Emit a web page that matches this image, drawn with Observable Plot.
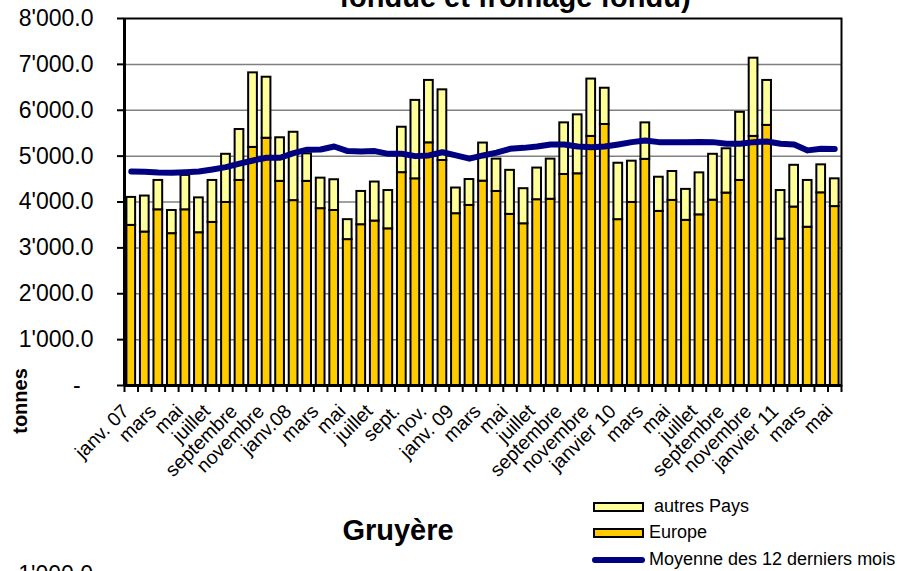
<!DOCTYPE html>
<html><head><meta charset="utf-8">
<script src="https://cdn.jsdelivr.net/npm/d3@7"></script>
<script src="https://cdn.jsdelivr.net/npm/@observablehq/plot@0.6"></script>
<style>
html,body{margin:0;padding:0;background:#fff;overflow:hidden}
#wrap{position:relative;width:897px;height:571px;overflow:hidden;font-family:"Liberation Sans",Arial,sans-serif;color:#000}
.t{position:absolute;white-space:nowrap;line-height:1}
.sw{position:absolute;box-sizing:border-box;border:2px solid #000}
</style></head><body><div id="wrap"></div>
<script>
// Months (janv. 2007 .. mai 2011)
const months = [
  "2007-01","2007-02","2007-03","2007-04","2007-05","2007-06","2007-07","2007-08","2007-09","2007-10","2007-11","2007-12",
  "2008-01","2008-02","2008-03","2008-04","2008-05","2008-06","2008-07","2008-08","2008-09","2008-10","2008-11","2008-12",
  "2009-01","2009-02","2009-03","2009-04","2009-05","2009-06","2009-07","2009-08","2009-09","2009-10","2009-11","2009-12",
  "2010-01","2010-02","2010-03","2010-04","2010-05","2010-06","2010-07","2010-08","2010-09","2010-10","2010-11","2010-12",
  "2011-01","2011-02","2011-03","2011-04","2011-05"
];
// Tick labels shown every second month
const tickLabels = [
  "janv. 07","mars","mai","juillet","septembre","novembre",
  "janv.08","mars","mai","juillet","sept.","nov.",
  "janv. 09","mars","mai","juillet","septembre","novembre",
  "janvier 10","mars","mai","juillet","septembre","novembre",
  "janvier 11","mars","mai"
];
// Exports in tonnes
const europe = [
  3490,3345,3830,3310,3830,3330,3555,3990,4470,5190,5390,4450,
  4030,4450,3855,3815,3180,3505,3585,3415,4640,4505,5290,4905,
  3745,3925,4455,4230,3730,3525,4050,4060,4600,4615,5430,5690,
  3615,3990,4930,3795,4035,3600,3720,4040,4195,4470,5430,5670,
  3190,3890,3450,4200,3900
];
const autresPays = [
  610,785,640,505,750,760,915,1050,1110,1625,1330,950,
  1490,600,665,670,435,725,850,835,990,1710,1360,1540,
  560,565,830,705,960,765,690,875,1125,1285,1250,790,
  1230,900,795,745,630,675,915,1000,965,1485,1705,980,
  1060,910,1020,610,605
];
const moyenne12 = [
  4665,4660,4645,4640,4650,4665,4710,4760,4835,4905,4965,4965,
  5065,5140,5145,5210,5110,5100,5110,5050,5050,5000,5015,5085,
  5015,4945,5015,5075,5160,5180,5210,5255,5255,5210,5195,5210,
  5255,5305,5340,5305,5305,5305,5310,5305,5270,5270,5305,5320,
  5270,5255,5125,5160,5155
];
const yTicks = [0,1000,2000,3000,4000,5000,6000,7000,8000];
const gridValues = [1000,2000,3000,4000,5000,6000,7000];
const seriesNames = ["Europe","autres Pays"];
const seriesColors = ["#FFCC00","#FFFF99"];

const barRows = [];
months.forEach((m, i) => {
  barRows.push({i, month: m, series: "Europe", y1: 0, y2: europe[i]});
  barRows.push({i, month: m, series: "autres Pays", y1: europe[i], y2: europe[i] + autresPays[i]});
});
const lineRows = months.map((m, i) => ({i, month: m, v: moyenne12[i]}));
const boundaries = d3.range(months.length + 1);

const fmt = d => d === 0 ? "-\u00a0\u00a0" : d3.format(",.1f")(d).replace(/,/g, "'");

const chart = Plot.plot({
  width: 897,
  height: 571,
  marginLeft: 124,
  marginRight: 56,
  marginTop: 18,
  marginBottom: 186,
  style: {fontFamily: "'Liberation Sans', Arial, sans-serif", color: "#000", background: "#fff", overflow: "visible"},
  x: {domain: [0, months.length]},
  y: {domain: [0, 8000]},
  color: {domain: seriesNames, range: seriesColors},
  marks: [
    Plot.ruleY(gridValues, {stroke: "#808080", strokeWidth: 1.5}),
    Plot.rect(barRows, {x1: d => d.i, x2: d => d.i + 1, y1: "y1", y2: "y2", fill: "series", stroke: "#000", strokeWidth: 2, insetLeft: 2.4, insetRight: 2.4}),
    Plot.line(lineRows, {x: d => d.i + 0.5, y: "v", stroke: "#000080", strokeWidth: 6, strokeLinejoin: "round", strokeLinecap: "round"}),
    Plot.frame({stroke: "#000", strokeWidth: 2}),
    Plot.ruleY([0], {stroke: "#000", strokeWidth: 3}),
    Plot.ruleX([0], {stroke: "#000", strokeWidth: 3}),
    Plot.axisY({ticks: yTicks, tickSize: 7, tickPadding: 24, tickFormat: fmt, fontSize: 23, strokeWidth: 2, label: null}),
    Plot.axisX({ticks: boundaries, tickSize: 7, tickFormat: () => "", strokeWidth: 2, label: null}),
    Plot.text(tickLabels, {x: (d, k) => 2 * k + 0.5, text: d => d, frameAnchor: "bottom", rotate: -45, textAnchor: "end", dx: -1, dy: 27, fontSize: 19.5, fill: "#000"})
  ]
});
const wrap = document.getElementById("wrap");
wrap.appendChild(chart);

function addText(txt, css) {
  const d = document.createElement("div");
  d.className = "t";
  d.textContent = txt;
  Object.assign(d.style, css);
  wrap.appendChild(d);
  return d;
}
// Title (its first line lies above the picture)
addText("fondue et fromage fondu)", {left: "515px", top: "-17.5px", fontSize: "29px", fontWeight: "bold", transform: "translateX(-50%)"});
// y-axis label
addText("tonnes", {left: "20px", top: "401px", fontSize: "20px", fontWeight: "bold", transform: "translate(-50%,-50%) rotate(-90deg)"});
// Next chart's title and first tick label
addText("Gruyère", {left: "398px", top: "515.5px", fontSize: "29px", fontWeight: "bold", transform: "translateX(-50%)"});
addText("1'000.0", {left: "93px", top: "563px", fontSize: "23px", transform: "translateX(-100%)"});

// Legend
function addSwatch(top, color) {
  const s = document.createElement("div");
  s.className = "sw";
  Object.assign(s.style, {left: "593px", top: top + "px", width: "51px", height: "10px", background: color});
  wrap.appendChild(s);
}
addSwatch(502, seriesColors[1]);
addText("autres Pays", {left: "654px", top: "496.5px", fontSize: "18px"});
addSwatch(528, seriesColors[0]);
addText("Europe", {left: "649px", top: "523px", fontSize: "18px"});
const ln = document.createElement("div");
Object.assign(ln.style, {position: "absolute", left: "592px", top: "556.5px", width: "53px", height: "6px", background: "#000080", borderRadius: "3px"});
wrap.appendChild(ln);
addText("Moyenne des 12 derniers mois", {left: "649px", top: "549.5px", fontSize: "18px"});
</script>
</body></html>
